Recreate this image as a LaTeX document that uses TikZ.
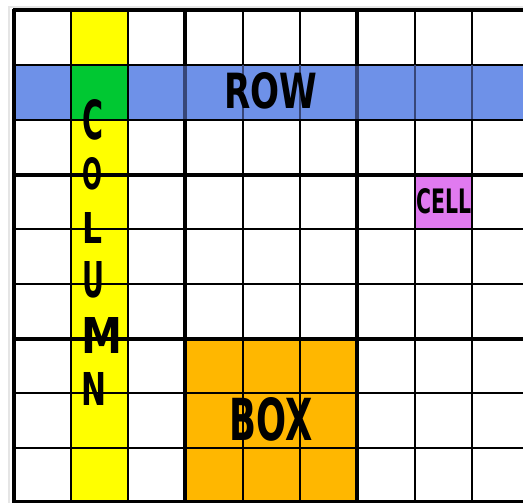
\documentclass[tikz,border=0pt]{standalone}
\usepackage{fontspec}
\usepackage{graphicx}
\setmainfont{DejaVu Sans}
\definecolor{rowblue}{RGB}{110,145,232}
\definecolor{colyellow}{RGB}{255,255,0}
\definecolor{hitgreen}{RGB}{0,200,50}
\definecolor{cellpink}{RGB}{224,122,240}
\definecolor{boxorange}{RGB}{255,183,0}
\definecolor{blueline}{RGB}{55,70,120}
\newcommand{\fitword}[3]{\resizebox{#1pt}{#2pt}{\bfseries #3}}
\begin{document}
\begin{tikzpicture}[x=0.5pt,y=-0.5pt,
  thinline/.style={line width=1pt,black},
  thickline/.style={line width=2pt,black},
  lbl/.style={inner sep=0pt,outer sep=0pt,anchor=center}]
\useasboundingbox (0,0) rectangle (523,502);
\fill[white] (0,0) rectangle (523,502);
% faint outer shade
\draw[line width=0.6pt,black!10] (9,520) -- (9,7) -- (540,7);
% fills
\fill[colyellow] (70.8,10) rectangle (128,502);
\fill[rowblue] (13.5,65) rectangle (529,120);
\fill[hitgreen] (70.8,65) rectangle (128,120);
\fill[cellpink] (414.6,174.5) rectangle (472,229);
\fill[boxorange] (185.4,338.5) rectangle (357.3,502);
% thin grid lines
\foreach \x in {70.8,128,242.7,300,414.6,472}
  \draw[thinline] (\x,10) -- (\x,502);
\foreach \y in {65,120,229,284,393,447.5}
  \draw[thinline] (13.5,\y) -- (529,\y);
% blended lines in blue row
\foreach \x in {242.7,300,414.6,472}
  \draw[line width=1pt,blueline] (\x,65.5) -- (\x,119.5);
% thick grid lines
\foreach \x in {13.5,185.4,357.3,529}
  \draw[thickline] (\x,9) -- (\x,503);
\foreach \y in {10,174.5,338.5,502}
  \draw[thickline] (12.5,\y) -- (530,\y);
\foreach \x in {185.4,357.3}
  \draw[line width=2pt,blueline] (\x,66) -- (\x,119);
% labels
\node[lbl] (row) at (271,91) {\fitword{46.5}{18}{ROW}};
\node[lbl] (c1) at (93,120) {\fitword{10.5}{20}{C}};
\node[lbl] (c2) at (92,174) {\fitword{10}{16}{O}};
\node[lbl] (c3) at (92,228) {\fitword{10}{15.5}{L}};
\node[lbl] (c4) at (93,280) {\fitword{11}{18}{U}};
\node[lbl] (c5) at (102,335) {\fitword{20.5}{18}{M}};
\node[lbl] (c6) at (94,389) {\fitword{12.5}{16.5}{N}};
\node[lbl] (cell) at (444,201) {\fitword{27.5}{12.5}{CELL}};
\node[lbl] (box) at (271,419) {\fitword{41.5}{21.5}{BOX}};
\end{tikzpicture}
\end{document}
